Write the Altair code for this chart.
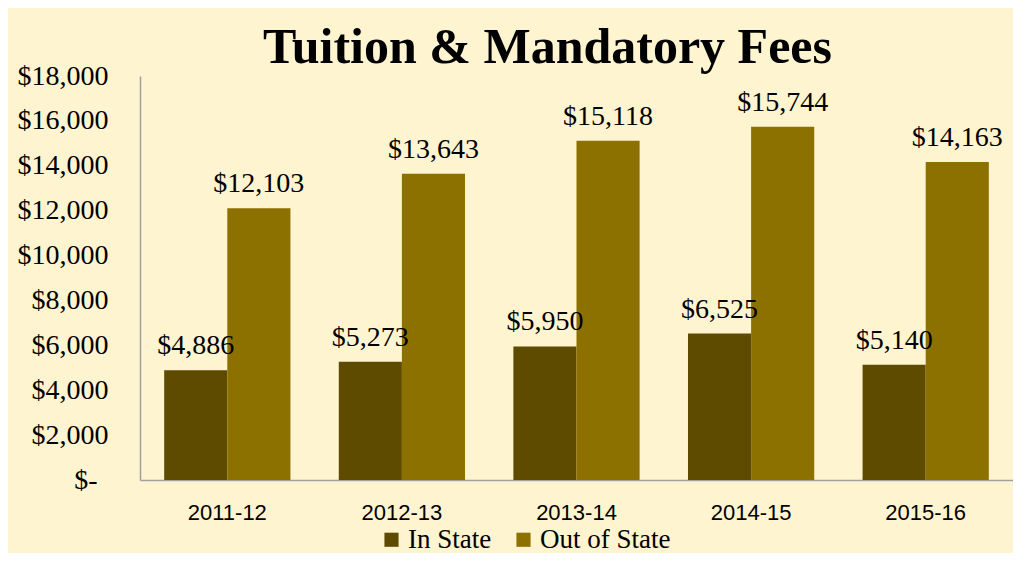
import altair as alt
import pandas as pd

years = ["2011-12", "2012-13", "2013-14", "2014-15", "2015-16"]
in_state = [4886, 5273, 5950, 6525, 5140]
out_state = [12103, 13643, 15118, 15744, 14163]
series = ["In State", "Out of State"]
colors = ["#5F4B00", "#8D7100"]
y_ticks = [0, 2000, 4000, 6000, 8000, 10000, 12000, 14000, 16000, 18000]

rows = []
for y, a, b in zip(years, in_state, out_state):
    rows.append({"year": y, "series": series[0], "value": a})
    rows.append({"year": y, "series": series[1], "value": b})
df = pd.DataFrame(rows)

serif = "Liberation Serif"
sans = "Liberation Sans"

x = alt.X("year:N", sort=years, title=None,
          scale=alt.Scale(paddingInner=0.277, paddingOuter=0.1385),
          axis=alt.Axis(labelAngle=0, labelFont=sans, labelFontSize=22, labelColor="#000",
                        ticks=False, tickSize=0, labelPadding=39, labelBaseline="alphabetic",
                        domainColor="#A0A0A0", domainWidth=1.5, grid=False))
xo = alt.XOffset("series:N", sort=series, scale=alt.Scale(paddingInner=0, paddingOuter=0))
y = alt.Y("value:Q", title=None,
          scale=alt.Scale(domain=[0, 18000], nice=False),
          axis=alt.Axis(values=y_ticks, grid=False, ticks=False, tickSize=0,
                        labelPadding={"condition": {"test": "datum.value == 0", "value": 43},
                                      "value": 32},
                        labelFont=serif, labelFontSize=28, labelColor="#000",
                        labelExpr="datum.value == 0 ? '$-' : '$' + format(datum.value, ',')",
                        domainColor="#A0A0A0", domainWidth=1.5))

bars = alt.Chart(df).mark_bar().encode(
    x=x, xOffset=xo, y=y,
    color=alt.Color("series:N", sort=series,
                    scale=alt.Scale(domain=series, range=colors),
                    legend=alt.Legend(title=None, orient="none", direction="horizontal",
                                      legendX=238, legendY=450, symbolType="square",
                                      symbolSize=200, symbolStrokeWidth=0,
                                      labelFont=serif, labelFontSize=27, labelColor="#000",
                                      labelOffset=3, columnPadding=18)),
)

labels = alt.Chart(df).mark_text(font=serif, fontSize=28, color="#000",
                                 baseline="alphabetic", dy=-16).encode(
    x=x, xOffset=xo, y=y,
    text=alt.Text("value:Q", format="$,.0f"),
)

chart = alt.layer(bars, labels).properties(
    width=873, height=404,
    autosize=alt.AutoSizeParams(type="none"),
    padding={"left": 132, "top": 68, "right": 0, "bottom": 73},
    background="#FEF4CF",
    title=alt.Title("Tuition & Mandatory Fees", font=serif, fontSize=50, fontWeight="bold",
                    color="#000", anchor="middle", offset=0, dx=-29, dy=11),
).configure_view(stroke=None)

chart.save("out.html", embed_options={"renderer": "svg", "actions": False})
